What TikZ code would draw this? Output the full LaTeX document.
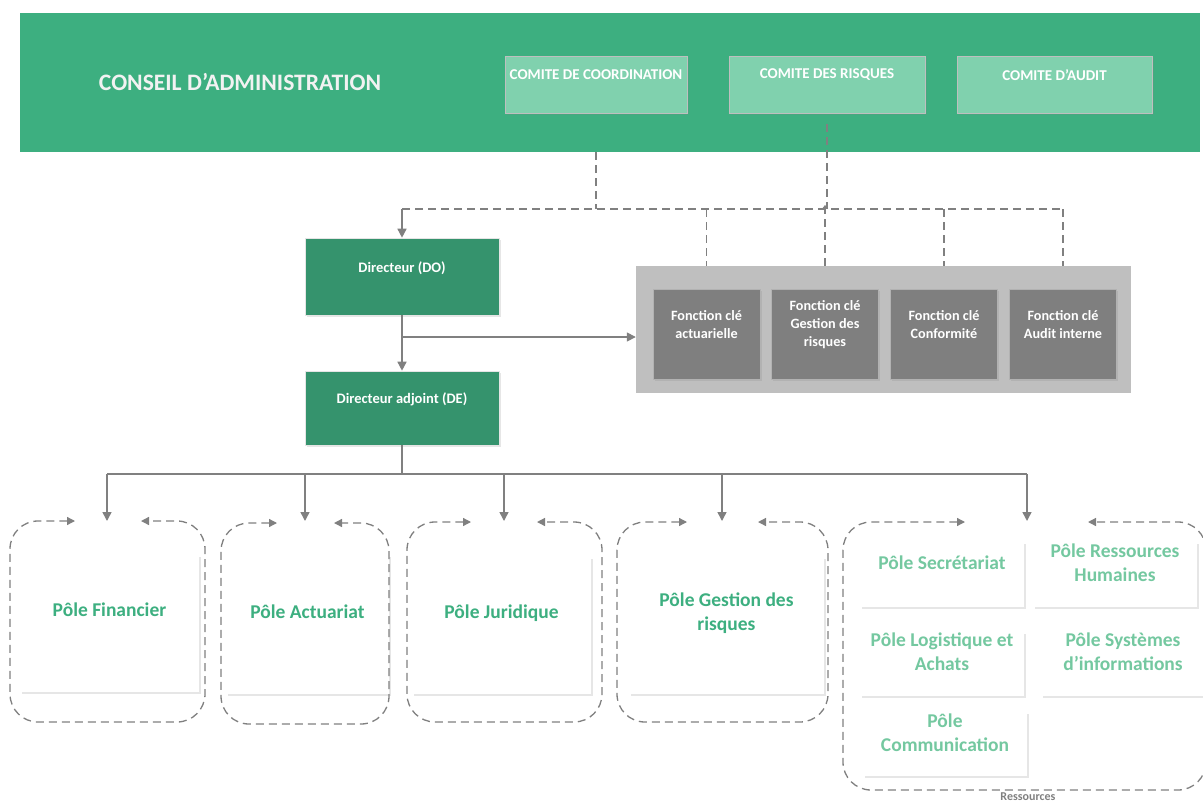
\documentclass[tikz,border=0pt]{standalone}
\usepackage{fontspec}
\setmainfont{Carlito}
\usetikzlibrary{arrows.meta,shadows}

\definecolor{band}{HTML}{3DAF80}
\definecolor{comite}{HTML}{80D1AE}
\definecolor{dirgreen}{HTML}{35936D}
\definecolor{panelgray}{HTML}{BFBFBF}
\definecolor{fctgray}{HTML}{7F7F7F}
\definecolor{linegray}{HTML}{808080}
\definecolor{polegreen}{HTML}{3DAF80}
\definecolor{polelight}{HTML}{74C8A0}

\newcommand{\fsz}[2]{\fontsize{#1}{#2}\selectfont\bfseries}

\begin{document}
\begin{tikzpicture}[x=1pt,y=-1pt,
  soft/.style={drop shadow={shadow xshift=1.5pt,shadow yshift=-2pt,opacity=.2}},
  combox/.style={fill=comite,draw=black!25,line width=.8pt,soft,minimum height=57pt,inner sep=0pt},
  dirbox/.style={fill=dirgreen,draw=black!10,line width=.6pt,soft,minimum width=194pt,inner sep=0pt},
  fctbox/.style={fill=fctgray,draw=black!30,line width=.8pt,soft,minimum width=107pt,minimum height=90pt,inner sep=0pt},
  polebox/.style={fill=white,soft,inner sep=0pt},
  wtxt/.style={text=white,align=center,font=\fsz{14.5}{18}},
  ptxt/.style={align=center,font=\fsz{19.5}{24}},
  line/.style={draw=linegray,line width=1.5pt},
  conn/.style={line,-{Triangle[length=9pt,width=9pt]}},
  dconn/.style={draw=linegray,line width=1.3pt,dash pattern=on 8pt off 5pt}]
  \useasboundingbox (0,0) rectangle (1203,804);

  % conseil et comites
  \node[fill=band,minimum width=1180pt,minimum height=139pt,inner sep=0pt] (ca) at (610,82.5) {};
  \node[text=black!5,font=\fsz{23.6}{28}] (ca-t) at (240,82) {CONSEIL D’ADMINISTRATION};
  \foreach \n/\x/\w/\t in {c1/596/182/COMITE DE COORDINATION, c2/827/196/COMITE DES RISQUES, c3/1054.5/195/COMITE D’AUDIT} {
    \node[combox,minimum width=\w pt] (\n) at (\x,84.5) {};
    \node[wtxt,font=\fsz{15}{18}] (\n-t) at (\x,75) {\t};
  }

  % liens pointilles
  \coordinate (j0) at (402,209);
  \coordinate (j1) at (1063,209);
  \draw[dconn] (c1 |- ca.south) -- (c1 |- j0);
  \draw[dconn] ([yshift=-11pt]c2.south) -- (c2 |- j0);
  \draw[dconn] (j0) -- (j1);

  % direction
  \node[dirbox,minimum height=77pt] (do) at (402,276.5) {};
  \node[wtxt] (do-t) at (402,268) {Directeur (DO)};
  \node[dirbox,minimum height=74pt] (de) at (402,408) {};
  \node[wtxt] (de-t) at (402,399) {Directeur adjoint (DE)};
  \draw[conn] (j0) -- (do.north);

  % fonctions cles
  \node[fill=panelgray,minimum width=495pt,minimum height=127pt,inner sep=0pt] (panel) at (883.5,329.5) {};
  \foreach \n/\x/\t in {f1/706.5/{Fonction clé\\actuarielle}, f2/825/{Fonction clé\\Gestion des\\risques},
      f3/944/{Fonction clé\\Conformité}, f4/1063/{Fonction clé\\Audit interne}} {
    \node[fctbox] (\n) at (\x,334) {};
    \node[wtxt,font=\fsz{14.2}{18}] (\n-t) at (\x,325) {\t};
  }
  \foreach \n in {f1,f3,f4}
    \draw[dconn] (\n |- j0) -- (\n |- panel.north);
  \draw[dconn,-{Stealth[length=4pt,width=6pt]}] (f2 |- panel.north) -- ([yshift=4pt]f2 |- j0);

  \coordinate (br) at (402,337);
  \draw[conn] (do.south) -- (de.north);
  \draw[conn] (br) -- (panel.west |- br);

  % poles
  \foreach \n/\x/\y/\w/\h/\ty/\c/\t in {
      pfin/109.5/623.5/179/137/610/polegreen/Pôle Financier,
      pact/307.5/624.5/163/139/612/polegreen/Pôle Actuariat,
      pjur/501.5/625.5/179/137/613/polegreen/Pôle Juridique,
      pgr/726.5/625.5/195/137/613/polegreen/{Pôle Gestion des\\risques},
      psec/942/574.5/164/65/563/polelight/Pôle Secrétariat,
      prh/1115/574.5/164/65/563/polelight/{Pôle Ressources\\Humaines},
      plog/942/664/164/64/651.5/polelight/{Pôle Logistique et\\Achats},
      psi/1123/664/164/64/651.5/polelight/{Pôle Systèmes\\d’informations},
      pcom/945/744/164/64/732.5/polelight/{Pôle\\Communication}} {
    \node[polebox,minimum width=\w pt,minimum height=\h pt] (\n) at (\x,\y) {};
    \node[ptxt,text=\c] (\n-t) at (\x,\ty) {\t};
  }

  % cadres pointilles
  \foreach \xl/\xr/\yt/\yb/\xa/\xc in {10/205/521/722/75/141, 221/389/523/724/277/334,
      407/602/522/722/471/537, 617/828/522/722/687/758, 843/1206/522/790/965/1088}
    \draw[dconn,rounded corners=28pt,{Triangle[length=8pt,width=8pt]}-{Triangle[length=8pt,width=8pt]}]
      (\xa,\yt) -- (\xl,\yt) -- (\xl,\yb) -- (\xr,\yb) -- (\xr,\yt) -- (\xc,\yt);
  \node[text=black!50,font=\fsz{12}{14}] (res) at (1028,797) {Ressources};

  % vers les poles
  \coordinate (bus) at (402,474);
  \draw[line] (de.south) -- (bus);
  \foreach \i/\x in {1/107,2/305,3/504,4/722,5/1027} {
    \coordinate (in\i) at (\x,521);
    \draw[conn] (in\i |- bus) -- (in\i);
  }
  \draw[line] (in1 |- bus) -- (in5 |- bus);
\end{tikzpicture}
\end{document}
